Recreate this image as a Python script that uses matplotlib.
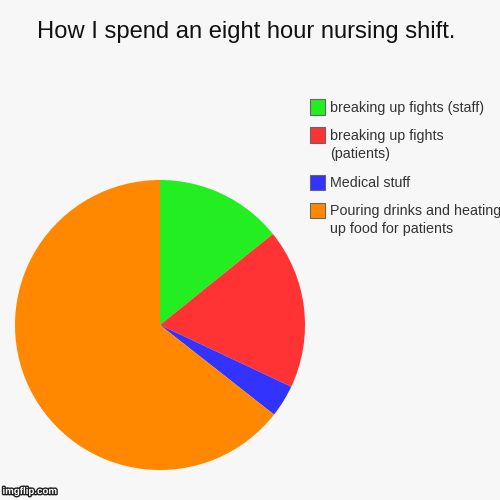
import matplotlib
matplotlib.use("Agg")
from matplotlib import pyplot as plt
from matplotlib.patches import Rectangle
import matplotlib.patheffects as pe

plt.rcParams['font.family'] = ['Liberation Sans', 'DejaVu Sans']

# data (percent of the shift)
labels = ["breaking up fights (staff)", "breaking up fights\n(patients)",
          "Medical stuff", "Pouring drinks and heating\nup food for patients"]
values = [14.2, 17.8, 3.6, 64.4]
colors = ["#22ee22", "#ff3333", "#3333ff", "#ff8800"]

bg = "#f7f7f7"
fig = plt.figure(figsize=(5, 5), dpi=100, facecolor=bg)

# pie, clockwise from the top
ax = fig.add_axes([0.03, 0.06, 0.58, 0.58])
ax.pie(values, colors=colors, startangle=90, counterclock=False,
       wedgeprops=dict(linewidth=0))
ax.set_xlim(-1, 1)
ax.set_ylim(-1, 1)
ax.set_aspect('equal')

fig.text(0.493, 0.936, "How I spend an eight hour nursing shift.",
         ha='center', va='center', fontsize=17.1, color='#111111')

# legend drawn by hand so the rows sit where they do in the picture
rows_y = [0.786, 0.730, 0.636, 0.580]
for lab, col, y in zip(labels, colors, rows_y):
    fig.patches.append(Rectangle((0.619, y - 0.015), 0.03, 0.03,
                                 transform=fig.transFigure, facecolor=col,
                                 edgecolor='#666666', linewidth=0.8))
    fig.text(0.66, y + 0.012, lab, ha='left', va='top', fontsize=10.3,
             color='#333333', linespacing=1.38)

fig.text(0.005, 0.008, "imgflip.com", ha='left', va='bottom', fontsize=7,
         color='white', fontweight='bold',
         path_effects=[pe.withStroke(linewidth=2, foreground='#222222')])

fig.savefig("out.png", dpi=100, facecolor=bg)
